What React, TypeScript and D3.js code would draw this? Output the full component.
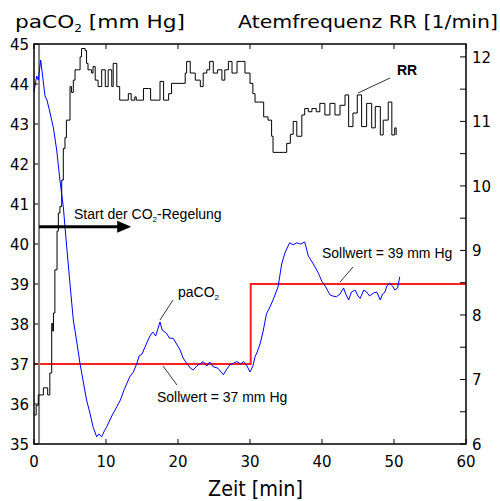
import * as d3 from 'd3';

// paCO2 trace [min, mm Hg]
const paTime = [0, 0.37, 0.6, 0.93, 1.2, 1.53, 1.8, 2.2, 2.7, 3.15, 3.6, 4.07, 4.54, 5.0, 5.46, 5.9, 6.4, 6.8, 7.3, 7.8, 8.2, 8.7, 9.0, 9.4, 9.7, 10.1, 10.8, 11.5, 12.0, 12.5, 13.3, 13.8, 14.3, 14.6, 15.0, 15.6, 16.1, 16.5, 16.9, 17.5, 17.8, 18.4, 18.8, 19.35, 19.8, 20.3, 20.7, 21.2, 21.7, 22.1, 22.6, 23.0, 23.5, 24.0, 24.4, 24.9, 25.5, 26.0, 26.3, 26.7, 27.2, 27.7, 28.2, 28.7, 29.1, 29.5, 30.0, 30.4, 30.7, 31.0, 31.4, 31.8, 32.3, 32.7, 33.2, 33.9, 34.4, 34.9, 35.5, 36.0, 36.5, 37.0, 37.6, 38.1, 38.8, 39.5, 40.0, 40.2, 40.6, 41.1, 41.5, 42.0, 42.5, 43.0, 43.3, 43.7, 44.1, 44.6, 45.0, 45.3, 45.8, 46.2, 46.6, 47.1, 47.6, 48.1, 48.4, 48.75, 49.0, 49.4, 49.8, 50.1, 50.5, 50.8];
const paco2 = [43.8, 44.2, 44.1, 44.6, 44.2, 43.7, 43.6, 43.3, 42.9, 42.35, 41.6, 40.93, 39.93, 39.0, 38.1, 37.6, 37.0, 36.6, 36.1, 35.75, 35.43, 35.18, 35.25, 35.18, 35.3, 35.43, 35.7, 35.93, 36.1, 36.35, 36.68, 36.8, 37.02, 37.2, 37.25, 37.5, 37.7, 37.8, 37.7, 38.05, 37.85, 37.77, 37.65, 37.64, 37.5, 37.35, 37.15, 37.02, 36.9, 36.85, 36.95, 37.0, 37.06, 36.95, 37.05, 36.93, 36.9, 36.8, 36.73, 36.85, 36.98, 37.02, 37.06, 37.0, 37.06, 36.98, 36.8, 36.95, 37.18, 37.3, 37.5, 37.8, 38.26, 38.4, 38.6, 38.93, 39.5, 39.8, 40.03, 39.98, 40.03, 40.0, 40.05, 39.7, 39.5, 39.27, 39.06, 39.02, 38.9, 38.73, 38.7, 38.68, 38.75, 38.9, 38.75, 38.6, 38.8, 38.85, 38.7, 38.64, 38.85, 38.8, 38.7, 38.77, 38.8, 38.6, 38.75, 38.8, 38.95, 39.02, 38.95, 38.85, 38.9, 39.18];

// respiratory rate trace [min, 1/min]
const rrTime = [0, 0.3, 0.6, 1.3, 1.9, 2.2, 2.46, 2.6, 2.7, 2.9, 3.2, 3.38, 3.6, 3.85, 4.07, 4.3, 4.5, 5.0, 5.2, 5.46, 5.7, 6.2, 6.4, 6.6, 7.1, 7.3, 7.5, 8.0, 8.2, 8.5, 8.9, 9.4, 9.9, 10.3, 10.8, 11.0, 11.5, 11.9, 12.9, 13.1, 13.5, 14.0, 14.2, 15.0, 15.2, 15.9, 16.2, 17.3, 17.5, 18.0, 18.7, 19.1, 20.3, 21.0, 21.2, 21.7, 22.4, 23.1, 23.5, 24.0, 24.4, 24.9, 25.5, 26.1, 26.5, 27.0, 27.5, 28.2, 28.8, 29.3, 30.0, 30.4, 30.7, 31.2, 31.9, 32.5, 33.0, 33.2, 34.6, 35.1, 35.6, 36.0, 36.5, 37.2, 37.6, 38.1, 38.6, 39.2, 39.7, 40.4, 41.1, 41.8, 42.5, 43.2, 43.7, 44.3, 44.9, 45.5, 46.2, 46.9, 47.4, 48.1, 48.5, 49.2, 49.7, 50.1, 50.3];
const rr = [6.45, 6.6, 6.76, 6.87, 6.76, 7.1, 7.87, 7.75, 8.03, 8.7, 9.3, 9.58, 9.68, 10.09, 10.58, 10.75, 11.02, 11.54, 11.45, 11.64, 11.8, 11.8, 12.0, 12.13, 12.1, 11.9, 11.8, 11.75, 11.85, 11.64, 11.54, 11.8, 11.54, 11.8, 11.54, 11.9, 11.54, 11.33, 11.33, 11.43, 11.33, 11.38, 11.33, 11.33, 11.51, 11.51, 11.33, 11.33, 11.62, 11.33, 11.43, 11.59, 11.59, 11.75, 11.93, 11.75, 11.64, 11.54, 11.75, 11.8, 11.93, 11.75, 11.8, 11.64, 11.8, 11.93, 11.75, 11.93, 11.93, 11.75, 11.59, 11.43, 11.3, 11.3, 11.07, 11.02, 10.77, 10.52, 10.52, 10.66, 10.8, 11.0, 10.77, 11.1, 11.2, 11.15, 11.2, 11.15, 11.28, 11.1, 11.28, 11.1, 11.25, 11.41, 10.92, 11.13, 11.41, 10.92, 11.28, 10.9, 11.23, 10.79, 11.02, 11.3, 10.79, 10.9, 10.79];

// setpoint (Sollwert) step
const sollTime = [0, 30.1, 30.1, 60];
const sollValue = [37, 37, 39, 39];
const controlStart = 0.7;

const xTicks = [0, 10, 20, 30, 40, 50, 60];
const leftTicks = [35, 36, 37, 38, 39, 40, 41, 42, 43, 44, 45];
const rightTicks = [6, 7, 8, 9, 10, 11, 12];
const rightMinor = [6.5, 7.5, 8.5, 9.5, 10.5, 11.5];

const W = 500;
const H = 501;

export default function App() {
  const x = d3.scaleLinear().domain([0, 60]).range([34, 466]);
  const yL = d3.scaleLinear().domain([35, 45]).range([444, 44]);
  const yR = d3.scaleLinear().domain([6, 12.2]).range([444, 44]);

  const paLine = d3.line<number>()
    .x((_, i) => x(paTime[i]))
    .y(d => yL(d));
  const rrLine = d3.line<number>()
    .x((_, i) => x(rrTime[i]))
    .y(d => yR(d))
    .curve(d3.curveStepAfter);
  const sollLine = d3.line<number>()
    .x((_, i) => x(sollTime[i]))
    .y(d => yL(d));

  const [x0, x1] = x.range();
  const top = yL(45);
  const bottom = yL(35);
  const arrowY = yL(40.43);
  const arrowEnd = x(13.5);

  const tickFont = 'DejaVu Sans';
  const annFont = 'Liberation Sans, Arial, sans-serif';

  return (
    <svg width={W} height={H} style={{ position: 'fixed', left: 0, top: 0, background: '#fff' }}>
      {/* titles */}
      <text x={15} y={28} fontFamily={tickFont} fontSize={18} textLength={170} lengthAdjust="spacingAndGlyphs">
        paCO<tspan fontSize={10} dy={4}>2</tspan><tspan dy={-4}> [mm Hg]</tspan>
      </text>
      <text x={238} y={28} fontFamily={tickFont} fontSize={18} textLength={260} lengthAdjust="spacingAndGlyphs">
        Atemfrequenz RR [1/min]
      </text>
      <text x={208} y={496} fontFamily={tickFont} fontSize={21} textLength={95} lengthAdjust="spacingAndGlyphs">
        Zeit [min]
      </text>

      {/* setpoint */}
      <path d={sollLine(sollValue) ?? ''} fill="none" stroke="#ff2020" strokeWidth={2} />

      {/* control start marker */}
      <line x1={x(controlStart)} x2={x(controlStart)} y1={top} y2={bottom} stroke="#808080" strokeWidth={2} />

      {/* traces */}
      <path d={rrLine(rr) ?? ''} fill="none" stroke="#000" strokeWidth={1} />
      <path d={paLine(paco2) ?? ''} fill="none" stroke="#0000ff" strokeWidth={1} />

      {/* frame */}
      <rect x={x0} y={top} width={x1 - x0} height={bottom - top} fill="none" stroke="#000" strokeWidth={1.5} />

      {/* x ticks */}
      {xTicks.map(t => (
        <g key={'x' + t}>
          <line x1={x(t)} x2={x(t)} y1={bottom} y2={bottom - 5} stroke="#000" />
          <line x1={x(t)} x2={x(t)} y1={top} y2={top + 5} stroke="#000" />
          <text x={x(t)} y={467} textAnchor="middle" fontFamily={tickFont} fontSize={15}>{t}</text>
        </g>
      ))}

      {/* left ticks */}
      {leftTicks.map(v => (
        <g key={'l' + v}>
          <line x1={x0} x2={x0 + 4} y1={yL(v)} y2={yL(v)} stroke="#000" />
          <text x={29} y={yL(v) + 6} textAnchor="end" fontFamily={tickFont} fontSize={15}>{v}</text>
        </g>
      ))}

      {/* right ticks */}
      {rightTicks.map(v => (
        <g key={'r' + v}>
          <line x1={x1} x2={x1 - 6} y1={yR(v)} y2={yR(v)} stroke="#000" />
          <text x={472} y={yR(v) + 6} fontFamily={tickFont} fontSize={15}>{v}</text>
        </g>
      ))}
      {rightMinor.map(v => (
        <line key={'m' + v} x1={x1} x2={x1 - 6} y1={yR(v)} y2={yR(v)} stroke="#000" />
      ))}

      {/* control start arrow */}
      <line x1={x(controlStart)} x2={arrowEnd - 10} y1={arrowY} y2={arrowY} stroke="#000" strokeWidth={3} />
      <path d={`M${arrowEnd},${arrowY} L${arrowEnd - 14},${arrowY - 6} L${arrowEnd - 14},${arrowY + 6} Z`} fill="#000" />
      <text x={74} y={219} fontFamily={annFont} fontSize={14}>
        Start der CO<tspan fontSize={8} dy={3}>2</tspan><tspan dy={-3}>-Regelung</tspan>
      </text>

      {/* annotations */}
      <line x1={358} y1={93} x2={390} y2={78} stroke="#000" strokeWidth={0.8} />
      <text x={397} y={75} fontFamily={annFont} fontSize={14} fontWeight="bold">RR</text>

      <line x1={160} y1={320} x2={173} y2={300} stroke="#000" strokeWidth={0.8} />
      <text x={178} y={297} fontFamily={annFont} fontSize={14}>
        paCO<tspan fontSize={8} dy={3}>2</tspan>
      </text>

      <line x1={163} y1={366} x2={177} y2={385} stroke="#000" strokeWidth={0.8} />
      <text x={157} y={402} fontFamily={annFont} fontSize={14}>Sollwert = 37 mm Hg</text>

      <line x1={340} y1={282} x2={353} y2={267} stroke="#000" strokeWidth={0.8} />
      <text x={322} y={258} fontFamily={annFont} fontSize={14}>Sollwert = 39 mm Hg</text>
    </svg>
  );
}
